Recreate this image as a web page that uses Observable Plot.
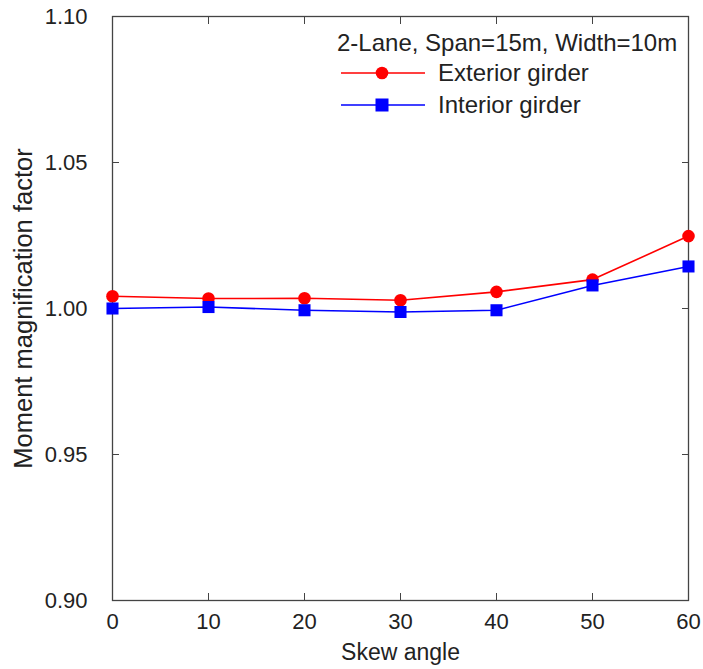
<!DOCTYPE html>
<html>
<head>
<meta charset="utf-8">
<script src="https://cdn.jsdelivr.net/npm/d3@7"></script>
<script src="https://cdn.jsdelivr.net/npm/@observablehq/plot@0.6"></script>
<style>
  html, body { margin: 0; padding: 0; background: #fff; }
  #wrap { position: relative; width: 703px; height: 669px; font-family: "Liberation Sans", Arial, sans-serif; }
  #legend { position: absolute; left: 337px; top: 28px; font-size: 24px; color: #222; }
  #legend .row { display: flex; align-items: center; height: 32px; }
  #legend .title { height: 29px; line-height: 29px; }
</style>
</head>
<body>
<div id="wrap"></div>
<script>
const skewAngles = [0, 10, 20, 30, 40, 50, 60];
const exteriorGirder = [1.0042, 1.0034, 1.0035, 1.0028, 1.0057, 1.0099, 1.0248];
const interiorGirder = [1.0000, 1.0005, 0.9994, 0.9988, 0.9994, 1.0079, 1.0144];
const xTicks = [0, 10, 20, 30, 40, 50, 60];
const yTicks = [0.90, 0.95, 1.00, 1.05, 1.10];
const seriesNames = ["Exterior girder", "Interior girder"];
const legendTitle = "2-Lane, Span=15m, Width=10m";
const xLabel = "Skew angle";
const yLabel = "Moment magnification factor";

const data = [
  ...skewAngles.map((x, i) => ({x, y: exteriorGirder[i], s: seriesNames[0]})),
  ...skewAngles.map((x, i) => ({x, y: interiorGirder[i], s: seriesNames[1]}))
];
const colors = {"Exterior girder": "#ff0000", "Interior girder": "#0000ff"};
const ext = data.filter(d => d.s === seriesNames[0]);
const int = data.filter(d => d.s === seriesNames[1]);
const axisColor = "#444";
const txt = "#222";

const chart = Plot.plot({
  width: 703,
  height: 669,
  marginLeft: 112,
  marginRight: 15,
  marginTop: 16,
  marginBottom: 69,
  style: {fontFamily: '"Liberation Sans", Arial, sans-serif', fontSize: "22px", color: txt, background: "#fff"},
  x: {domain: [0, 60], ticks: xTicks},
  y: {domain: [0.90, 1.10], ticks: yTicks},
  marks: [
    Plot.frame({stroke: axisColor, strokeWidth: 1.3}),
    Plot.axisX({ticks: xTicks, tickSize: -7, tickPadding: 20, stroke: axisColor, anchor: "bottom", label: null, fill: txt, fontSize: 22, tickFormat: d3.format("d")}),
    Plot.axisX({ticks: xTicks, tickSize: -7, anchor: "top", stroke: axisColor, text: null, label: null}),
    Plot.axisY({ticks: yTicks, tickSize: -7, tickPadding: 32, stroke: axisColor, anchor: "left", label: null, fill: txt, fontSize: 22, tickFormat: d3.format(".2f")}),
    Plot.axisY({ticks: yTicks, tickSize: -7, anchor: "right", stroke: axisColor, text: null, label: null}),
    Plot.text([xLabel], {frameAnchor: "bottom", dy: 52, fontSize: 23, fill: txt, lineAnchor: "middle"}),
    Plot.text([yLabel], {frameAnchor: "left", dx: -89, rotate: -90, fontSize: 25.5, fill: txt, lineAnchor: "middle", textAnchor: "middle"}),
    Plot.line(ext, {x: "x", y: "y", stroke: colors[seriesNames[0]], strokeWidth: 1.6}),
    Plot.line(int, {x: "x", y: "y", stroke: colors[seriesNames[1]], strokeWidth: 1.6}),
    Plot.dot(ext, {x: "x", y: "y", symbol: "circle", r: 6.3, fill: colors[seriesNames[0]], stroke: "none"}),
    Plot.dot(int, {x: "x", y: "y", symbol: "square", r: 6.8, fill: colors[seriesNames[1]], stroke: "none"})
  ]
});
const wrap = document.getElementById("wrap");
wrap.appendChild(chart);

// legend overlay
const legend = document.createElement("div");
legend.id = "legend";
const t = document.createElement("div");
t.className = "title";
t.textContent = legendTitle;
legend.appendChild(t);
seriesNames.forEach((name, i) => {
  const row = document.createElement("div");
  row.className = "row";
  const sym = i === 0
    ? `<circle cx="41" cy="10" r="6.3" fill="${colors[name]}"/>`
    : `<rect x="34.5" y="3.5" width="13" height="13" fill="${colors[name]}"/>`;
  row.innerHTML = `<svg width="84" height="20" style="margin-left:4px"><line x1="0" x2="84" y1="10" y2="10" stroke="${colors[name]}" stroke-width="1.6"/>${sym}</svg><span style="margin-left:13px">${name}</span>`;
  legend.appendChild(row);
});
wrap.appendChild(legend);
</script>
</body>
</html>
